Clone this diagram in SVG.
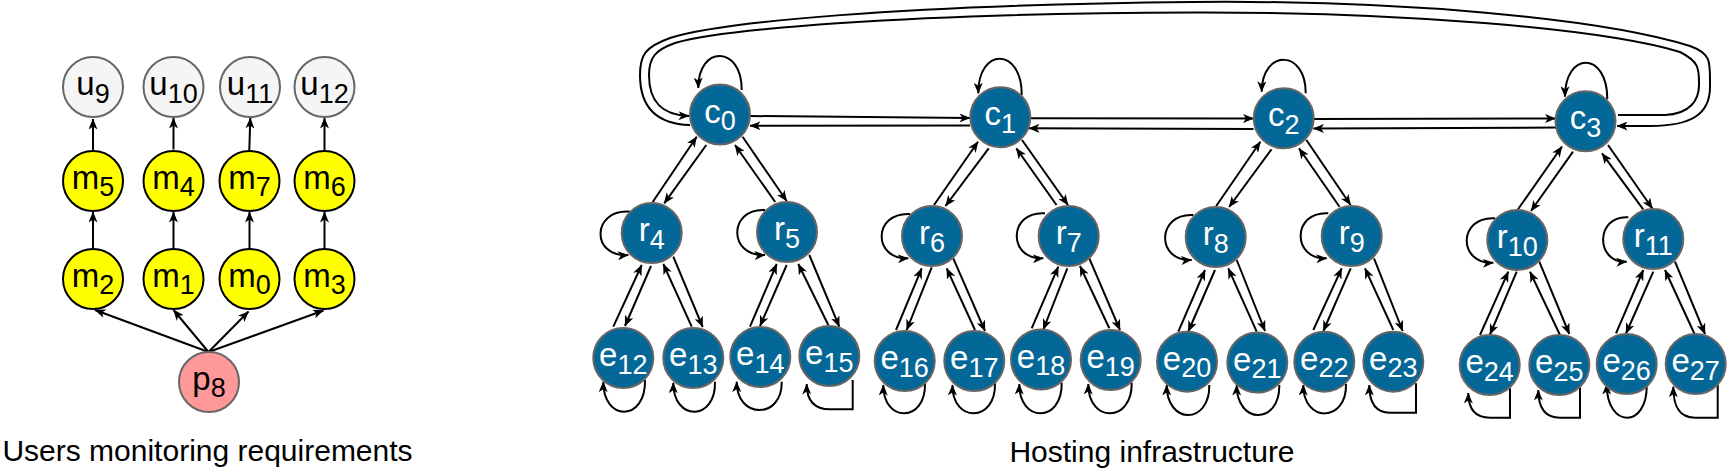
<svg xmlns="http://www.w3.org/2000/svg" width="1727" height="468" viewBox="0 0 1727 468">
<style>
.e{fill:none;stroke:#000;stroke-width:2;marker-end:url(#a)}
.b{fill:#036897;stroke:#666;stroke-width:2}
.u{fill:#f5f5f5;stroke:#666;stroke-width:2}
.m{fill:#ffff00;stroke:#000;stroke-width:2}
.p{fill:#ff9999;stroke:#666;stroke-width:2}
text{font-family:"Liberation Sans",Arial,sans-serif;font-size:33px;text-anchor:middle}
.t{font-size:30px}
.w{fill:#fff}
.k{fill:#000}
.s{font-size:27px}
</style>
<defs>
<marker id="a" viewBox="0 0 11 9" refX="10.5" refY="4.5" markerWidth="11" markerHeight="9" orient="auto" markerUnits="userSpaceOnUse"><path d="M0,0 L11,4.5 L0,9 L3,4.5 Z" fill="#000"/></marker>
</defs>
<g id="connectors">
<path class="e" d="M93 150 L93 119"/>
<path class="e" d="M173.5 149.5 L173.5 118"/>
<path class="e" d="M249.3 150 L250.3 118"/>
<path class="e" d="M324.5 150 L324.5 118"/>
<path class="e" d="M93 248 L93 212"/>
<path class="e" d="M173.5 248 L173.5 212"/>
<path class="e" d="M249.5 249 L249.5 212"/>
<path class="e" d="M324.5 249 L324.5 212"/>
<path class="e" d="M208.5 352 L95 310"/>
<path class="e" d="M208.5 352 L173.5 310"/>
<path class="e" d="M208.5 352 L248.5 311.5"/>
<path class="e" d="M208.5 352 L323.5 310.5"/>
<path class="e" d="M690 125 C655 124,640 105,640 75 C640 55,645 47,670 38 C720 22,900 5,1193 2 C1400 0,1600 18,1690 46 C1712 54,1710 62,1710 87 C1710 115,1690 126,1650 126 L1617 126"/>
<path class="e" d="M1618 115 L1665 115 C1690 114,1699 100,1699 85 C1699 70,1700 62,1680 52 C1600 28,1400 12,1193 12.5 C900 13,720 30,675 43 C655 50,649 58,649 75 C649 100,660 115,689 116"/>
<path class="e" d="M750 116 L970 118"/>
<path class="e" d="M970 125.5 L750 125.7"/>
<path class="e" d="M1030.7 118.3 L1253.5 118.5"/>
<path class="e" d="M1253.5 129 L1029 128.3"/>
<path class="e" d="M1314 119 L1555.5 118.5"/>
<path class="e" d="M1556.5 127.5 L1313.5 128.5"/>
<path class="e" d="M741.7 90 C742 45,698 45,698.3 88"/>
<path class="e" d="M1021.7 95 C1022 47,978 47,978.3 93.3"/>
<path class="e" d="M1305.7 93.3 C1306 49,1262 49,1261.7 91.7"/>
<path class="e" d="M1607.3 99.3 C1607.5 51,1565 51,1565 96.7"/>
<path class="e" d="M652.7 202 L696.7 136.7"/>
<path class="e" d="M706.3 145 L664.2 203.3"/>
<path class="e" d="M775.2 202 L735 145"/>
<path class="e" d="M742.6 136.7 L786.7 201"/>
<path class="e" d="M934 205 L978 141.7"/>
<path class="e" d="M988.7 148.3 L945.5 206"/>
<path class="e" d="M1056.5 205 L1016.3 148.3"/>
<path class="e" d="M1022 140 L1068 205"/>
<path class="e" d="M1216.2 206 L1260.4 141.7"/>
<path class="e" d="M1271.5 149.3 L1229.1 207"/>
<path class="e" d="M1339.5 206.7 L1299 148.3"/>
<path class="e" d="M1306.4 140 L1350.6 205"/>
<path class="e" d="M1518 209.3 L1562 146.5"/>
<path class="e" d="M1573 151.7 L1531 211"/>
<path class="e" d="M1643.2 209.3 L1602 153.3"/>
<path class="e" d="M1608 145 L1652.4 208.5"/>
<path class="e" d="M613.3 326.7 L641.7 265"/>
<path class="e" d="M651 266 L625 326"/>
<path class="e" d="M691.7 326.7 L663.3 264"/>
<path class="e" d="M673.3 256.7 L702.7 327"/>
<path class="e" d="M750 326.7 L776.7 264"/>
<path class="e" d="M786.7 265 L760 326"/>
<path class="e" d="M828.3 325 L798.3 264"/>
<path class="e" d="M809.3 255 L839.3 326.7"/>
<path class="e" d="M896 330 L921.7 268.3"/>
<path class="e" d="M931.7 267.3 L906.7 330"/>
<path class="e" d="M975 330 L946.7 268.3"/>
<path class="e" d="M953.3 258.3 L985 331"/>
<path class="e" d="M1031.7 328.3 L1058.3 266.7"/>
<path class="e" d="M1067.3 268.3 L1043.3 329.5"/>
<path class="e" d="M1109.3 328.3 L1080 266"/>
<path class="e" d="M1089.3 258.3 L1120 330"/>
<path class="e" d="M1178.3 331.7 L1205 270"/>
<path class="e" d="M1215 270 L1188.3 331.5"/>
<path class="e" d="M1256.7 331.7 L1228.3 268.3"/>
<path class="e" d="M1236.7 260 L1265 331"/>
<path class="e" d="M1313.3 330 L1341.7 268.3"/>
<path class="e" d="M1350.7 268.3 L1323.3 331"/>
<path class="e" d="M1393.3 330 L1365 268.3"/>
<path class="e" d="M1374 258.3 L1402.7 331"/>
<path class="e" d="M1480 335 L1508.3 271.7"/>
<path class="e" d="M1516.7 271.7 L1490 334.5"/>
<path class="e" d="M1560 335 L1530 271.7"/>
<path class="e" d="M1539.3 261.7 L1569.3 334"/>
<path class="e" d="M1616 333.3 L1643.3 270"/>
<path class="e" d="M1653.3 271.7 L1626 333.5"/>
<path class="e" d="M1695 335 L1665 270"/>
<path class="e" d="M1675 261.7 L1705 334"/>
<path class="e" d="M630 211.7 C591 209,591 258,628.3 255"/>
<path class="e" d="M765 210 C728 208,728 257,765 255"/>
<path class="e" d="M910 214 C872.5 212,872.5 260,908.3 258.3"/>
<path class="e" d="M1045 213.3 C1007.6 211,1007.6 260,1043.3 258.3"/>
<path class="e" d="M1193.3 215 C1156 213,1156 262,1191.7 260"/>
<path class="e" d="M1328.3 213.3 C1291.7 211,1291.7 260,1326.7 258.3"/>
<path class="e" d="M1495 218.3 C1457.6 216,1457.6 264.5,1493.3 262.7"/>
<path class="e" d="M1628.3 217.3 C1595 215,1595 263.5,1626.7 261.7"/>
<path class="e" d="M645 380 C646 422,603 422,603.3 381.7"/>
<path class="e" d="M715 381.7 C716 421.5,673 421.5,673.3 382.7"/>
<path class="e" d="M781.7 381.7 C782.5 419.5,736.5 419.5,736.7 381.7"/>
<path class="e" d="M852.7 380 L852.7 409.3 L830 409.3 C812 409.3,806.7 398,806.7 384"/>
<path class="e" d="M925 383.3 C926 423,883 423,883.3 385"/>
<path class="e" d="M995 383.3 C996 423,952 423,952.5 385"/>
<path class="e" d="M1061.7 382.7 C1062.5 423.3,1019 423.3,1019.3 384"/>
<path class="e" d="M1131.7 382.7 C1132.5 423.3,1088 423.3,1088.3 384"/>
<path class="e" d="M1209.3 385 C1210 425,1166.5 425,1166.7 385"/>
<path class="e" d="M1279.3 385 C1280 425,1236.5 425,1236.7 385"/>
<path class="e" d="M1346 384 C1347 423,1303 423,1303.3 385"/>
<path class="e" d="M1416 383.3 L1416 412.7 L1390 412.7 C1374 412.7,1369.3 400,1369.3 385"/>
<path class="e" d="M1510 388.3 L1510 417.7 L1490 417.7 C1472 417.7,1468.3 405,1468.3 393"/>
<path class="e" d="M1580 387.3 L1580 417.7 L1560 417.7 C1542 417.7,1538.3 404,1538.3 390"/>
<path class="e" d="M1646.7 385 C1647.5 428.8,1606.5 428.8,1606.7 384"/>
<path class="e" d="M1717.7 383.3 L1717.7 417.7 L1695 417.7 C1677 417.7,1673.3 403,1673.3 386.7"/>
</g>
<g id="u9"><circle class="u" cx="93" cy="87" r="30"/><text class="k" x="93" y="95">u<tspan class="s" dy="7.5">9</tspan></text></g>
<g id="u10"><circle class="u" cx="173.5" cy="87" r="30"/><text class="k" x="173.5" y="95">u<tspan class="s" dy="7.5">10</tspan></text></g>
<g id="u11"><circle class="u" cx="250" cy="87" r="30"/><text class="k" x="250" y="95">u<tspan class="s" dy="7.5">11</tspan></text></g>
<g id="u12"><circle class="u" cx="324.5" cy="87" r="30"/><text class="k" x="324.5" y="95">u<tspan class="s" dy="7.5">12</tspan></text></g>
<g id="m5"><circle class="m" cx="93" cy="181" r="30"/><text class="k" x="93" y="189">m<tspan class="s" dy="7">5</tspan></text></g>
<g id="m4"><circle class="m" cx="173.5" cy="181" r="30"/><text class="k" x="173.5" y="189">m<tspan class="s" dy="7">4</tspan></text></g>
<g id="m7"><circle class="m" cx="249.5" cy="181" r="30"/><text class="k" x="249.5" y="189">m<tspan class="s" dy="7">7</tspan></text></g>
<g id="m6"><circle class="m" cx="324.5" cy="181" r="30"/><text class="k" x="324.5" y="189">m<tspan class="s" dy="7">6</tspan></text></g>
<g id="m2"><circle class="m" cx="93" cy="279" r="30"/><text class="k" x="93" y="287">m<tspan class="s" dy="7">2</tspan></text></g>
<g id="m1"><circle class="m" cx="173.5" cy="279" r="30"/><text class="k" x="173.5" y="287">m<tspan class="s" dy="7">1</tspan></text></g>
<g id="m0"><circle class="m" cx="249.5" cy="279" r="30"/><text class="k" x="249.5" y="287">m<tspan class="s" dy="7">0</tspan></text></g>
<g id="m3"><circle class="m" cx="324.5" cy="279" r="30"/><text class="k" x="324.5" y="287">m<tspan class="s" dy="7">3</tspan></text></g>
<g id="p8"><circle class="p" cx="209" cy="382" r="30"/><text class="k" x="209" y="390">p<tspan class="s" dy="7">8</tspan></text></g>
<g id="c0"><circle class="b" cx="720" cy="114.5" r="30"/><text class="w" x="720" y="122.5">c<tspan class="s" dy="7.5">0</tspan></text></g>
<g id="c1"><circle class="b" cx="1000.3" cy="117.2" r="30"/><text class="w" x="1000.3" y="125.2">c<tspan class="s" dy="7.5">1</tspan></text></g>
<g id="c2"><circle class="b" cx="1283.7" cy="118.3" r="30"/><text class="w" x="1283.7" y="126.3">c<tspan class="s" dy="7.5">2</tspan></text></g>
<g id="c3"><circle class="b" cx="1585.5" cy="121.3" r="30"/><text class="w" x="1585.5" y="129.3">c<tspan class="s" dy="7.5">3</tspan></text></g>
<g id="r4"><circle class="b" cx="651.7" cy="233" r="30"/><text class="w" x="651.7" y="241">r<tspan class="s" dy="7.5">4</tspan></text></g>
<g id="r5"><circle class="b" cx="787" cy="232" r="30"/><text class="w" x="787" y="240">r<tspan class="s" dy="7.5">5</tspan></text></g>
<g id="r6"><circle class="b" cx="932" cy="236" r="30"/><text class="w" x="932" y="244">r<tspan class="s" dy="7.5">6</tspan></text></g>
<g id="r7"><circle class="b" cx="1068.7" cy="236" r="30"/><text class="w" x="1068.7" y="244">r<tspan class="s" dy="7.5">7</tspan></text></g>
<g id="r8"><circle class="b" cx="1215.7" cy="237" r="30"/><text class="w" x="1215.7" y="245">r<tspan class="s" dy="7.5">8</tspan></text></g>
<g id="r9"><circle class="b" cx="1351.7" cy="236" r="30"/><text class="w" x="1351.7" y="244">r<tspan class="s" dy="7.5">9</tspan></text></g>
<g id="r10"><circle class="b" cx="1517.3" cy="240" r="30"/><text class="w" x="1517.3" y="248">r<tspan class="s" dy="7.5">10</tspan></text></g>
<g id="r11"><circle class="b" cx="1653.3" cy="239" r="30"/><text class="w" x="1653.3" y="247">r<tspan class="s" dy="7.5">11</tspan></text></g>
<g id="e12"><circle class="b" cx="623.3" cy="358" r="30"/><text class="w" x="623.3" y="366">e<tspan class="s" dy="7.5">12</tspan></text></g>
<g id="e13"><circle class="b" cx="693.3" cy="358" r="30"/><text class="w" x="693.3" y="366">e<tspan class="s" dy="7.5">13</tspan></text></g>
<g id="e14"><circle class="b" cx="760.3" cy="357" r="30"/><text class="w" x="760.3" y="365">e<tspan class="s" dy="7.5">14</tspan></text></g>
<g id="e15"><circle class="b" cx="829.3" cy="356" r="30"/><text class="w" x="829.3" y="364">e<tspan class="s" dy="7.5">15</tspan></text></g>
<g id="e16"><circle class="b" cx="904.7" cy="361" r="30"/><text class="w" x="904.7" y="369">e<tspan class="s" dy="7.5">16</tspan></text></g>
<g id="e17"><circle class="b" cx="974.3" cy="361" r="30"/><text class="w" x="974.3" y="369">e<tspan class="s" dy="7.5">17</tspan></text></g>
<g id="e18"><circle class="b" cx="1041" cy="359.5" r="30"/><text class="w" x="1041" y="367.5">e<tspan class="s" dy="7.5">18</tspan></text></g>
<g id="e19"><circle class="b" cx="1110.7" cy="360" r="30"/><text class="w" x="1110.7" y="368">e<tspan class="s" dy="7.5">19</tspan></text></g>
<g id="e20"><circle class="b" cx="1187" cy="361.7" r="30"/><text class="w" x="1187" y="369.7">e<tspan class="s" dy="7.5">20</tspan></text></g>
<g id="e21"><circle class="b" cx="1257.3" cy="362.5" r="30"/><text class="w" x="1257.3" y="370.5">e<tspan class="s" dy="7.5">21</tspan></text></g>
<g id="e22"><circle class="b" cx="1324.3" cy="361.7" r="30"/><text class="w" x="1324.3" y="369.7">e<tspan class="s" dy="7.5">22</tspan></text></g>
<g id="e23"><circle class="b" cx="1393.3" cy="361.7" r="30"/><text class="w" x="1393.3" y="369.7">e<tspan class="s" dy="7.5">23</tspan></text></g>
<g id="e24"><circle class="b" cx="1489.7" cy="365" r="30"/><text class="w" x="1489.7" y="373">e<tspan class="s" dy="7.5">24</tspan></text></g>
<g id="e25"><circle class="b" cx="1559.3" cy="365" r="30"/><text class="w" x="1559.3" y="373">e<tspan class="s" dy="7.5">25</tspan></text></g>
<g id="e26"><circle class="b" cx="1626.7" cy="364" r="30"/><text class="w" x="1626.7" y="372">e<tspan class="s" dy="7.5">26</tspan></text></g>
<g id="e27"><circle class="b" cx="1695.7" cy="364" r="30"/><text class="w" x="1695.7" y="372">e<tspan class="s" dy="7.5">27</tspan></text></g>
<g id="titles">
<text class="k t" x="207.5" y="461">Users monitoring requirements</text>
<text class="k t" x="1152" y="461.5">Hosting infrastructure</text>
</g>
</svg>
